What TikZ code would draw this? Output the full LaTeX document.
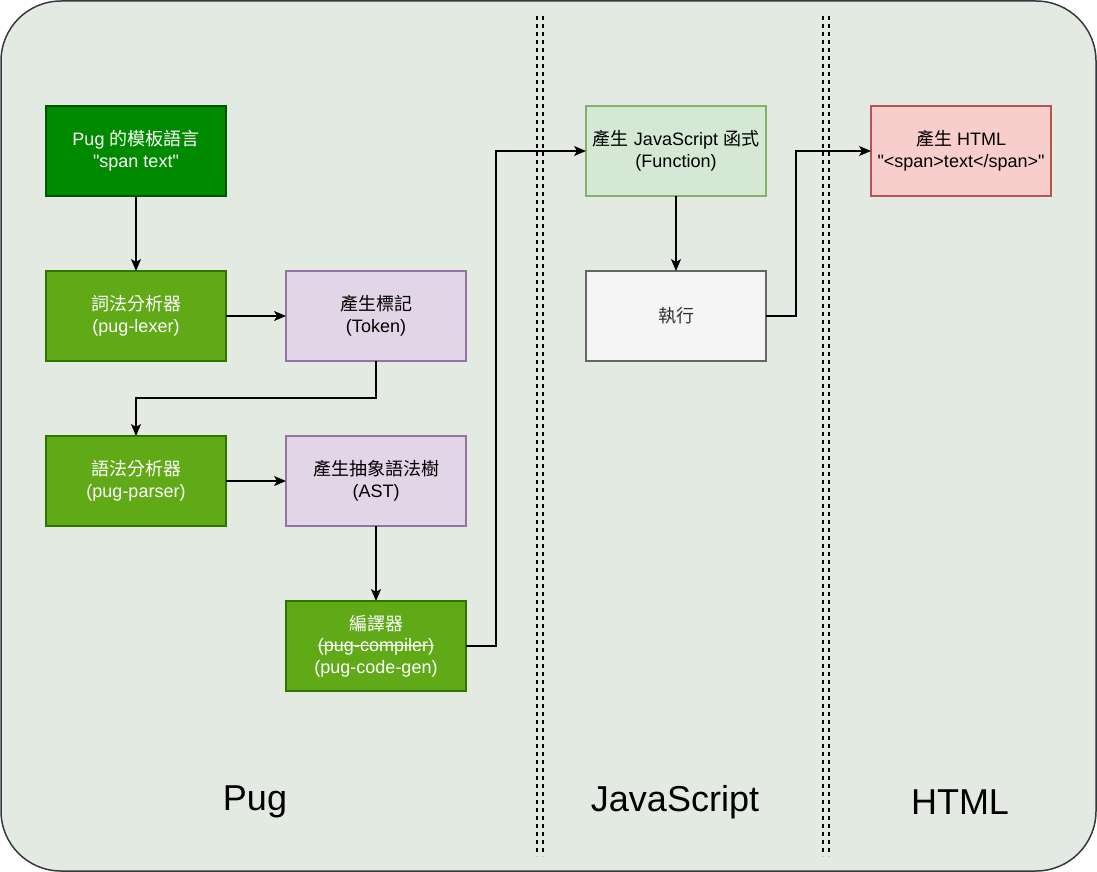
\documentclass[tikz,border=0pt]{standalone}
\usepackage{fontspec}
\setmainfont{Liberation Sans}
\newfontfamily\cjk{Noto Sans CJK TC}
\usetikzlibrary{positioning,arrows.meta}

\definecolor{bgfill}{HTML}{E2EAE2}
\definecolor{bgline}{HTML}{36393D}
\definecolor{darkgreen}{HTML}{008A00}
\definecolor{darkgreenline}{HTML}{005700}
\definecolor{lime}{HTML}{60A917}
\definecolor{limeline}{HTML}{2D7600}
\definecolor{purplefill}{HTML}{E1D5E7}
\definecolor{purpleline}{HTML}{9673A6}
\definecolor{lightgreen}{HTML}{D5E8D4}
\definecolor{lightgreenline}{HTML}{82B366}
\definecolor{grayfill}{HTML}{F5F5F5}
\definecolor{grayline}{HTML}{666666}
\definecolor{graytext}{HTML}{333333}
\definecolor{redfill}{HTML}{F8CECC}
\definecolor{redline}{HTML}{B85450}

\newcommand{\zh}[1]{{\cjk #1}}
\newcommand{\qq}{\textquotedbl}
\newcommand{\strike}[1]{\setbox0\hbox{#1}\rlap{\copy0}\rule[0.3em]{\wd0}{1pt}}

\begin{document}
\begin{tikzpicture}[
    x=1pt, y=-1pt,
    box/.style={draw, line width=1.2pt, minimum width=180pt, minimum height=90pt,
        align=center, font=\fontsize{18}{21.6}\selectfont, inner sep=0pt, outer sep=0pt},
    pugbox/.style={box, fill=lime, draw=limeline, text=white},
    tokbox/.style={box, fill=purplefill, draw=purpleline},
    flow/.style={line width=1.2pt, -{Stealth[length=12pt,width=10pt,inset=3pt]}},
    divider/.style={line width=1.2pt, dash pattern=on 4pt off 4pt},
    lane/.style={font=\fontsize{36}{40}\selectfont},
]
    \useasboundingbox (0,0) rectangle (1097,872);
    \draw[fill=bgfill, draw=bgline, line width=1.5pt, rounded corners=60pt]
        (1,1) rectangle (1096,871);

    % dividers
    \foreach \x in {537,543,823,829}
        \draw[divider] (\x,16) -- (\x,856);

    % Pug lane
    \node[box, fill=darkgreen, draw=darkgreenline, text=white] (tmpl) at (136,151)
        {Pug \zh{的模板語言}\\\qq span text\qq};
    \node[pugbox, below=75pt of tmpl] (lexer) {\zh{詞法分析器}\\(pug-lexer)};
    \node[tokbox, right=60pt of lexer] (token) {\zh{產生標記}\\(Token)};
    \node[pugbox, below=75pt of lexer] (parser) {\zh{語法分析器}\\(pug-parser)};
    \node[tokbox, right=60pt of parser] (ast) {\zh{產生抽象語法樹}\\(AST)};
    \node[pugbox, below=75pt of ast] (compiler)
        {\zh{編譯器}\\\strike{(pug-compiler)}\\(pug-code-gen)};

    % JavaScript lane
    \node[box, fill=lightgreen, draw=lightgreenline] (jsfunc) at (676,151)
        {\zh{產生} JavaScript \zh{函式}\\(Function)};
    \node[box, fill=grayfill, draw=grayline, text=graytext, below=75pt of jsfunc] (exec)
        {\zh{執行}};

    % HTML lane
    \node[box, fill=redfill, draw=redline] (html) at (961,151)
        {\zh{產生} HTML\\\qq<span>text</span>\qq};

    \node[lane] (puglabel) at (255,802) {Pug};
    \node[lane] (jslabel) at (675,802) {JavaScript};
    \node[lane] (htmllabel) at (960,802) {HTML};

    \draw[flow] (tmpl) -- (lexer);
    \draw[flow] (lexer) -- (token);
    \draw[flow] (token.south) -- ++(0,37) -| (parser.north);
    \draw[flow] (parser) -- (ast);
    \draw[flow] (ast) -- (compiler);
    \draw[flow] (compiler.east) -- ++(30,0) |- (jsfunc.west);
    \draw[flow] (jsfunc) -- (exec);
    \draw[flow] (exec.east) -- ++(30,0) |- (html.west);
\end{tikzpicture}
\end{document}
